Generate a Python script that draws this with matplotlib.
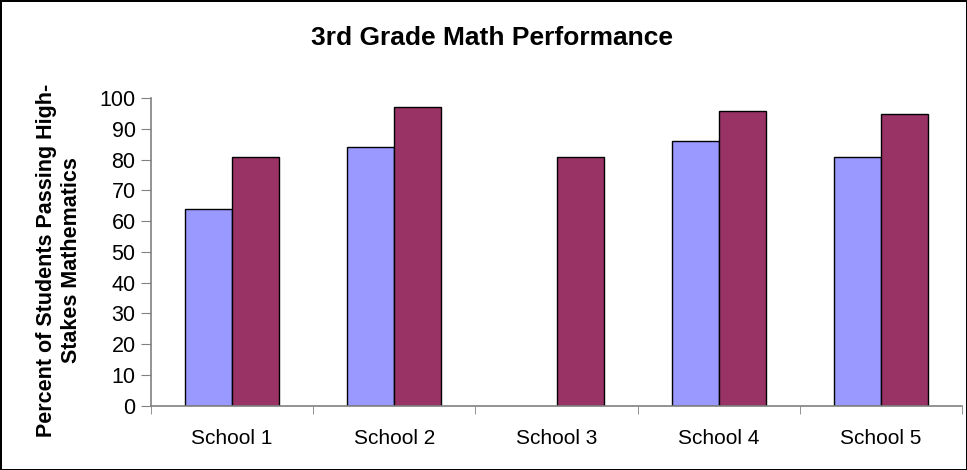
import numpy as np
import matplotlib.pyplot as plt

plt.rcParams['font.family'] = ['Liberation Sans', 'DejaVu Sans']

schools = ["School 1", "School 2", "School 3", "School 4", "School 5"]
series_a = [64, 84, np.nan, 86, 81]
series_b = [81, 97, 81, 96, 95]
yticks = list(range(0, 101, 10))

fig = plt.figure(figsize=(9.67, 4.7), dpi=100)
fig.patch.set_edgecolor("black")
fig.patch.set_linewidth(2)
ax = fig.add_axes([0.156, 0.137, 0.839, 0.654])

x = np.arange(len(schools))
w = 0.29
ax.bar(x - w / 2, series_a, w, color="#9999FF", edgecolor="black", linewidth=1)
ax.bar(x + w / 2, series_b, w, color="#993366", edgecolor="black", linewidth=1)

ax.set_xlim(-0.5, len(schools) - 0.5)
ax.set_ylim(0, 100)
ax.set_yticks(yticks)
ax.set_xticks(x)
ax.set_xticklabels(schools, fontsize=15)
ax.tick_params(axis="x", length=0, pad=17)
ax.set_xticks(np.arange(len(schools) + 1) - 0.5, minor=True)
ax.tick_params(axis="x", which="minor", length=6, color="#808080")
ax.tick_params(axis="y", labelsize=15.5, length=7, pad=4, color="#808080")

for s in ["top", "right"]:
    ax.spines[s].set_visible(False)
for s in ["left", "bottom"]:
    ax.spines[s].set_color("#808080")
    ax.spines[s].set_linewidth(1.2)

fig.text(0.509, 0.919, "3rd Grade Math Performance", ha="center", va="center",
         fontsize=19, fontweight="bold")
fig.text(0.061, 0.447, "Percent of Students Passing High-\nStakes Mathematics",
         rotation=90, ha="center", va="center", multialignment="center",
         fontsize=15.5, fontweight="bold", linespacing=1.2)

fig.savefig("out.png", dpi=100, edgecolor=fig.get_edgecolor())
